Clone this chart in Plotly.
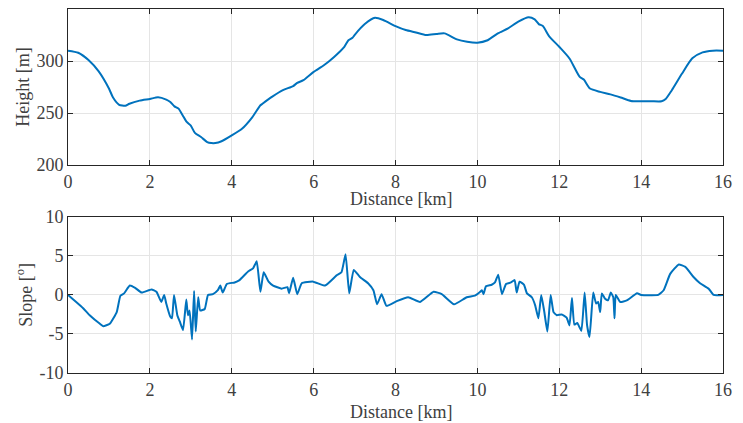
import plotly.graph_objects as go

# Height profile
dist_h = [0, 0.25, 0.5, 0.75, 1.0, 1.1, 1.25, 1.4, 1.5, 1.75, 2.0, 2.2, 2.4, 2.5, 2.6, 2.7, 2.8, 2.9,
          3.0, 3.1, 3.25, 3.4, 3.5, 3.6, 3.75, 4.0, 4.25, 4.5, 4.7, 4.75, 5.0, 5.25, 5.5, 5.6, 5.75,
          6.0, 6.25, 6.5, 6.75, 6.85, 6.95, 7.0, 7.25, 7.5, 7.7, 8.0, 8.25, 8.5, 8.75, 9.0, 9.2,
          9.5, 9.75, 10.0, 10.25, 10.5, 10.75, 11.0, 11.25, 11.4, 11.5, 11.6, 11.75, 12.0, 12.25,
          12.5, 12.6, 12.75, 13.0, 13.25, 13.5, 13.75, 14.0, 14.25, 14.5, 14.6, 14.75, 15.0,
          15.25, 15.5, 15.75, 16.0]
height = [310, 308, 301, 290, 273.6, 265, 258, 257, 259, 262, 263.6, 265.2, 263, 260.7, 256.5, 254.3,
          248, 241.5, 238, 231, 227, 222.2, 221.2, 221.2, 223, 228.6, 235, 246, 257.5, 259, 266,
          272, 276, 279, 281.6, 289.6, 296, 304, 313.7, 320, 322.4, 325, 335.5, 341.5, 339.4,
          333.6, 329.8, 327.5, 325, 326, 326.6, 320.8, 318.5, 317.6, 320, 326.6, 331.4, 337.8,
          342, 340, 335.5, 333.6, 324, 313.7, 302.5, 284.8, 282.2, 273.6, 270.4, 268, 265,
          261.7, 261.4, 261.4, 261.4, 263.6, 272, 288, 302.6, 308.3, 310, 310]

# Slope profile
dist_s = [0, 0.2, 0.37, 0.53, 0.78, 0.86, 1.02, 1.19, 1.28, 1.37, 1.51, 1.64, 1.8, 2.04, 2.16,
          2.28, 2.35, 2.40, 2.50, 2.54, 2.59, 2.67, 2.73, 2.81, 2.89, 2.93, 2.97, 3.03, 3.08,
          3.12, 3.18, 3.23, 3.34, 3.42, 3.54, 3.66, 3.72, 3.78, 3.88, 4.07, 4.19, 4.40, 4.52,
          4.61, 4.70, 4.78, 4.90, 5.01, 5.22, 5.36, 5.40, 5.50, 5.60, 5.71, 5.99, 6.28, 6.56,
          6.68, 6.78, 6.87, 6.98, 7.13, 7.33, 7.46, 7.55, 7.66, 7.78, 8.03, 8.31, 8.60, 8.93,
          9.13, 9.43, 9.74, 9.94, 10.07, 10.11, 10.15, 10.21, 10.35, 10.43, 10.51, 10.60,
          10.70, 10.82, 10.91, 10.96, 11.03, 11.14, 11.21, 11.33, 11.41, 11.49, 11.56, 11.63,
          11.71, 11.79, 11.86, 11.94, 12.06, 12.18, 12.25, 12.31, 12.37, 12.44, 12.54, 12.62,
          12.68, 12.74, 12.83, 12.90, 12.95, 13.00, 13.04, 13.12, 13.19, 13.26, 13.32, 13.35,
          13.38, 13.49, 13.65, 13.90, 14.0, 14.42, 14.55, 14.71, 14.92, 15.08, 15.28, 15.44,
          15.65, 15.77, 16.0]
slope = [0, -0.9, -1.7, -2.6, -3.7, -4.0, -3.7, -2.2, -0.1, 0.2, 1.2, 0.9, 0.3, 0.7, 0.4,
         -0.9, 0, -1.1, -2.8, -3.0, 0, -2.6, -3.4, -4.5, -0.6, -2.6, -2.0, -5.7, 0.5,
         -4.7, -0.3, -2.0, -1.8, 0, 0.1, 0.6, 1.2, 0.3, 1.4, 1.6, 1.9, 3.0, 3.4,
         4.3, 0.4, 2.9, 1.7, 1.2, 0.8, 1.0, 0.2, 2.2, 0.1, 1.5, 1.7, 1.2, 2.5,
         2.9, 5.2, 0.2, 3.2, 2.3, 1.5, 0.6, -1.2, 0.1, -1.4, -0.8, -0.3, -0.9, 0.4,
         0.1, -1.2, -0.3, -0.1, 0.4, 0.6, 0.1, 1.1, 1.3, 1.6, 2.6, 0.1,
         1.4, 1.6, 1.9, 0.3, 1.7, 1.3, 0.2, -0.3, -1.3, -3.0, 0, -2.0,
         -4.7, 0, -2.2, -2.6, -2.5, -2.9, -3.9, -0.4, -3.8, -3.6, -4.6, 0.3,
         -3.9, -5.4, 0.3, -1.1, -0.9, -2.2, 0.2, -0.5, -0.7, 0.3, -0.3, -3.0,
         0, -0.9, -0.7, 0.2, 0, 0, 0.6, 2.7, 3.9, 3.6, 2.3, 1.5,
         0.8, 0, 0]

x_ticks = [0, 2, 4, 6, 8, 10, 12, 14, 16]
h_ticks = [200, 250, 300, 350]
s_ticks = [-10, -5, 0, 5, 10]
s_tick_text = ["-10", "-5", "0", "5", "10"]
x_title = "Distance [km]"

LINE = "#0072BD"
FONT = "Times New Roman, Liberation Serif, DejaVu Serif, serif"
TICKC = "#404040"
AXC = "#262626"
GRID = "#e5e5e5"
FS = 18

fig = go.Figure()
fig.add_trace(go.Scatter(x=dist_h, y=height, mode="lines",
                         line=dict(color=LINE, width=2, shape="spline", smoothing=0.6),
                         xaxis="x", yaxis="y", showlegend=False))
fig.add_trace(go.Scatter(x=dist_s, y=slope, mode="lines",
                         line=dict(color=LINE, width=2, shape="spline", smoothing=0.4),
                         xaxis="x2", yaxis="y2", showlegend=False))

axis_common = dict(showline=True, linecolor=AXC, linewidth=1, mirror="allticks", ticks="inside",
                   ticklen=5, tickcolor=AXC, showgrid=True, gridcolor=GRID, gridwidth=1,
                   zeroline=False, automargin=False, tickfont=dict(family=FONT, size=FS, color=TICKC))
title_font = dict(family=FONT, size=FS, color=TICKC)

fig.update_layout(
    width=743, height=423,
    margin=dict(l=68, r=20, t=9, b=50),
    paper_bgcolor="white", plot_bgcolor="white",
    font=dict(family=FONT, size=FS, color=TICKC),
    xaxis=dict(domain=[0, 1], range=[0, 16], tickvals=x_ticks, anchor="y", **axis_common),
    yaxis=dict(domain=[0.571, 1.0], range=[200, 350], tickvals=h_ticks, anchor="x",
               title=dict(text="Height [m]", standoff=2, font=title_font), **axis_common),
    xaxis2=dict(domain=[0, 1], range=[0, 16], tickvals=x_ticks, anchor="y2", **axis_common),
    yaxis2=dict(domain=[0, 0.429], range=[-10, 10], tickvals=s_ticks, ticktext=s_tick_text, anchor="x2",
                title=dict(text="Slope [<sup>o</sup>]", standoff=2, font=title_font), **axis_common),
    annotations=[
        dict(text=x_title, xref="paper", yref="paper", x=0.508, y=0.478, xanchor="center",
             yanchor="middle", showarrow=False, font=title_font),
        dict(text=x_title, xref="paper", yref="paper", x=0.508, y=-0.106, xanchor="center",
             yanchor="middle", showarrow=False, font=title_font),
    ],
)

fig.write_html("out.html", config={"displayModeBar": False},
               post_script="document.body.style.margin='0';document.body.style.padding='0';")
